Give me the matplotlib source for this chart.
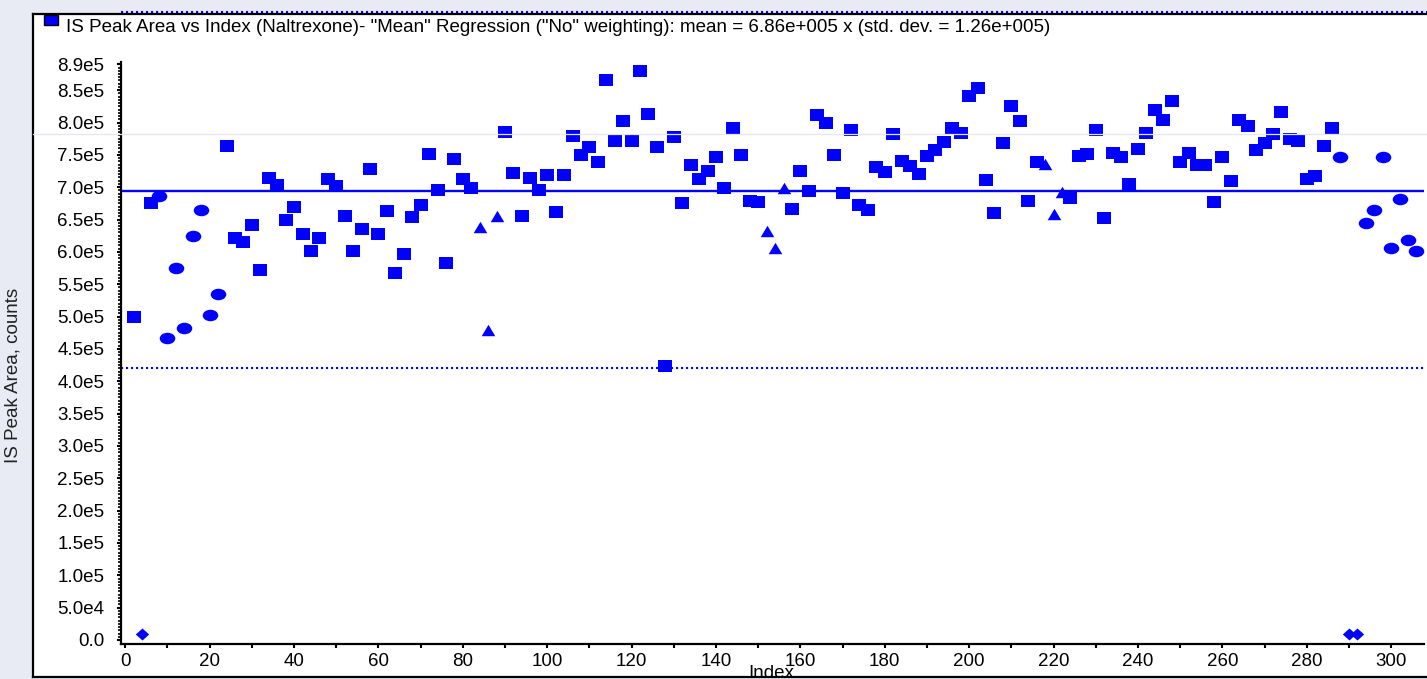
import numpy as np
import matplotlib.pyplot as plt
from matplotlib.lines import Line2D
from matplotlib.patches import Rectangle
from matplotlib.path import Path
from matplotlib.ticker import FixedLocator, FixedFormatter

plt.rcParams['font.family'] = ['Liberation Sans', 'DejaVu Sans']

# --- Data ---
sample_index = np.arange(2, 307, 2)   # one sample every 2 index units

# IS peak area in units of 1e5 counts
peak_area_e5 = [
    4.99, 0.09, 6.75, 6.87, 4.67, 5.75, 4.82, 6.24, 6.64, 5.03,
    5.35, 7.63, 6.21, 6.15, 6.41, 5.72, 7.14, 7.03, 6.50, 6.70,
    6.27, 6.01, 6.21, 7.12, 7.02, 6.55, 6.01, 6.35, 7.28, 6.28,
    6.63, 5.68, 5.96, 6.54, 6.72, 7.51, 6.95, 5.83, 7.44, 7.12,
    6.99, 6.39, 4.79, 6.55, 7.86, 7.22, 6.55, 7.14, 6.96, 7.19,
    6.61, 7.19, 7.79, 7.50, 7.62, 7.39, 8.66, 7.72, 8.02, 7.72,
    8.79, 8.13, 7.62, 4.24, 7.78, 6.75, 7.34, 7.12, 7.25, 7.47,
    6.99, 7.92, 7.49, 6.78, 6.77, 6.33, 6.06, 6.98, 6.66, 7.25,
    6.94, 8.11, 8.00, 7.50, 6.91, 7.89, 6.72, 6.64, 7.31, 7.23,
    7.82, 7.40, 7.32, 7.21, 7.48, 7.58, 7.70, 7.92, 7.84, 8.41,
    8.54, 7.11, 6.60, 7.68, 8.25, 8.03, 6.79, 7.39, 7.36, 6.59,
    6.93, 6.83, 7.48, 7.52, 7.89, 6.52, 7.53, 7.47, 7.05, 7.59,
    7.84, 8.19, 8.04, 8.34, 7.39, 7.53, 7.35, 7.35, 6.77, 7.46,
    7.10, 8.04, 7.94, 7.58, 7.69, 7.82, 8.16, 7.74, 7.72, 7.12,
    7.17, 7.63, 7.91, 7.47, 0.09, 0.09, 6.44, 6.64, 7.47, 6.06,
    6.82, 6.18, 6.02,
]

# sample type per point: S = square, C = circle, T = triangle, D = diamond
sample_type = (
    "SDSCCCCCCC" "CSSSSSSSSS" "SSSSSSSSSS" "SSSSSSSSSS" "STTTSSSSSS"
    "SSSSSSSSSS" "SSSSSSSSSS" "SSSSSTTTSS" "SSSSSSSSSS" "SSSSSSSSSS"
    "SSSSSSSSTT" "TSSSSSSSSS" "SSSSSSSSSS" "SSSSSSSSSS" "SSSCDDCCCC"
    "CCC"
)

mean_line = 6.94e5
lower_limit = 4.21e5
upper_limit = 9.71e5

y_tick_values = [0, 0.5e5, 1.0e5, 1.5e5, 2.0e5, 2.5e5, 3.0e5, 3.5e5, 4.0e5,
                 4.5e5, 5.0e5, 5.5e5, 6.0e5, 6.5e5, 7.0e5, 7.5e5, 8.0e5, 8.5e5, 8.9e5]
y_tick_labels = ["0.0", "5.0e4", "1.0e5", "1.5e5", "2.0e5", "2.5e5", "3.0e5", "3.5e5",
                 "4.0e5", "4.5e5", "5.0e5", "5.5e5", "6.0e5", "6.5e5", "7.0e5", "7.5e5",
                 "8.0e5", "8.5e5", "8.9e5"]
x_tick_values = list(range(0, 301, 20))
x_minor_values = list(range(10, 300, 20))

title = ('IS Peak Area vs Index (Naltrexone)- "Mean" Regression ("No" weighting): '
         'mean = 6.86e+005 x (std. dev. = 1.26e+005)')

FS = 13.5

# --- Markers ---
def make_marker(verts):
    verts = list(verts) + [verts[0]]
    codes = [Path.MOVETO] + [Path.LINETO] * (len(verts) - 2) + [Path.CLOSEPOLY]
    return Path(verts, codes)

circ = Path.unit_circle()
markers = {
    "S": (make_marker([(-0.5, -0.4), (0.5, -0.4), (0.5, 0.4), (-0.5, 0.4)]), 10.6),
    "C": (Path(circ.vertices * np.array([1.0, 0.74]), circ.codes), 11.2),
    "T": (make_marker([(0, 0.42), (-0.5, -0.42), (0.5, -0.42)]), 9.8),
    "D": (make_marker([(0, 0.45), (0.5, 0), (0, -0.45), (-0.5, 0)]), 9.6),
}

W, H = 1427, 679
fig = plt.figure(figsize=(W / 100, H / 100), dpi=100, facecolor="#e8ebf4")

# white panel
fig.patches.append(Rectangle((33 / W, 1 - 677 / H), 1.2, (677 - 14) / H,
                             transform=fig.transFigure, facecolor="white",
                             edgecolor="none", zorder=-1))
for xs, ys in [([33, 33], [14, 677]), ([33, W], [14, 14]), ([33, W], [677, 677])]:
    fig.lines.append(Line2D([x / W for x in xs], [1 - y / H for y in ys],
                            transform=fig.transFigure, color="black", lw=1.6, zorder=5))

ax = fig.add_axes([121.5 / W, 1 - 644 / H, (1424 - 121.5) / W, (644 - 61.7) / H])
ax.set_facecolor("white")

y = np.array(peak_area_e5) * 1e5
codes = np.array(list(sample_type))
for code, (path, ms) in markers.items():
    m = codes == code
    ax.plot(sample_index[m], y[m], linestyle="none", marker=path, markersize=ms,
            color="#0000ff", markeredgewidth=0, clip_on=False, zorder=3)

ax.axhline(mean_line, color="#0000ff", lw=1.7, zorder=2)
ax.axhline(lower_limit, color="#0000ff", lw=1.5, ls=(0, (1, 1.4)), zorder=2)
ax.axhline(upper_limit, xmax=1.01, color="#0000ff", lw=1.5, ls=(0, (1, 1.4)),
           zorder=2, clip_on=False)

ax.set_xlim(-0.9, 307.8)
ax.set_ylim(-6200, 894000)

for s in ["top", "right"]:
    ax.spines[s].set_visible(False)
for s in ["left", "bottom"]:
    ax.spines[s].set_linewidth(1.6)
    ax.spines[s].set_color("black")

ax.yaxis.set_major_locator(FixedLocator(y_tick_values))
ax.yaxis.set_major_formatter(FixedFormatter(y_tick_labels))
ax.yaxis.set_minor_locator(FixedLocator(np.arange(0, 895000, 5000)))
ax.xaxis.set_major_locator(FixedLocator(x_tick_values))
ax.xaxis.set_minor_locator(FixedLocator(x_minor_values))

ax.tick_params(axis="y", which="major", length=3, width=1.5, pad=9.5,
               labelsize=FS, colors="black")
ax.tick_params(axis="y", which="minor", length=2, width=1.2)
ax.tick_params(axis="x", which="both", length=3, width=1.5, pad=3.5,
               labelsize=FS, colors="black")

# light seam line across the panel
fig.lines.append(Line2D([33 / W, 1.0], [1 - 134 / H] * 2, transform=fig.transFigure,
                        color="#e4e7f3", lw=0.9, zorder=6))

# title + legend box
fig.patches.append(Rectangle((44 / W, 1 - 25 / H), 14 / W, 10 / H,
                             transform=fig.transFigure, facecolor="#0000ff",
                             edgecolor="black", lw=1, zorder=6))
fig.text(66 / W, 1 - 28 / H, title, ha="left", va="center", fontsize=FS)

fig.text(13 / W, 1 - 375 / H, "IS Peak Area, counts", rotation=90,
         ha="center", va="center", fontsize=FS, color="#222222")
fig.text(771 / W, 1 - 674 / H, "Index", ha="center", va="center", fontsize=FS)

fig.savefig("out.png", dpi=100, facecolor=fig.get_facecolor())
